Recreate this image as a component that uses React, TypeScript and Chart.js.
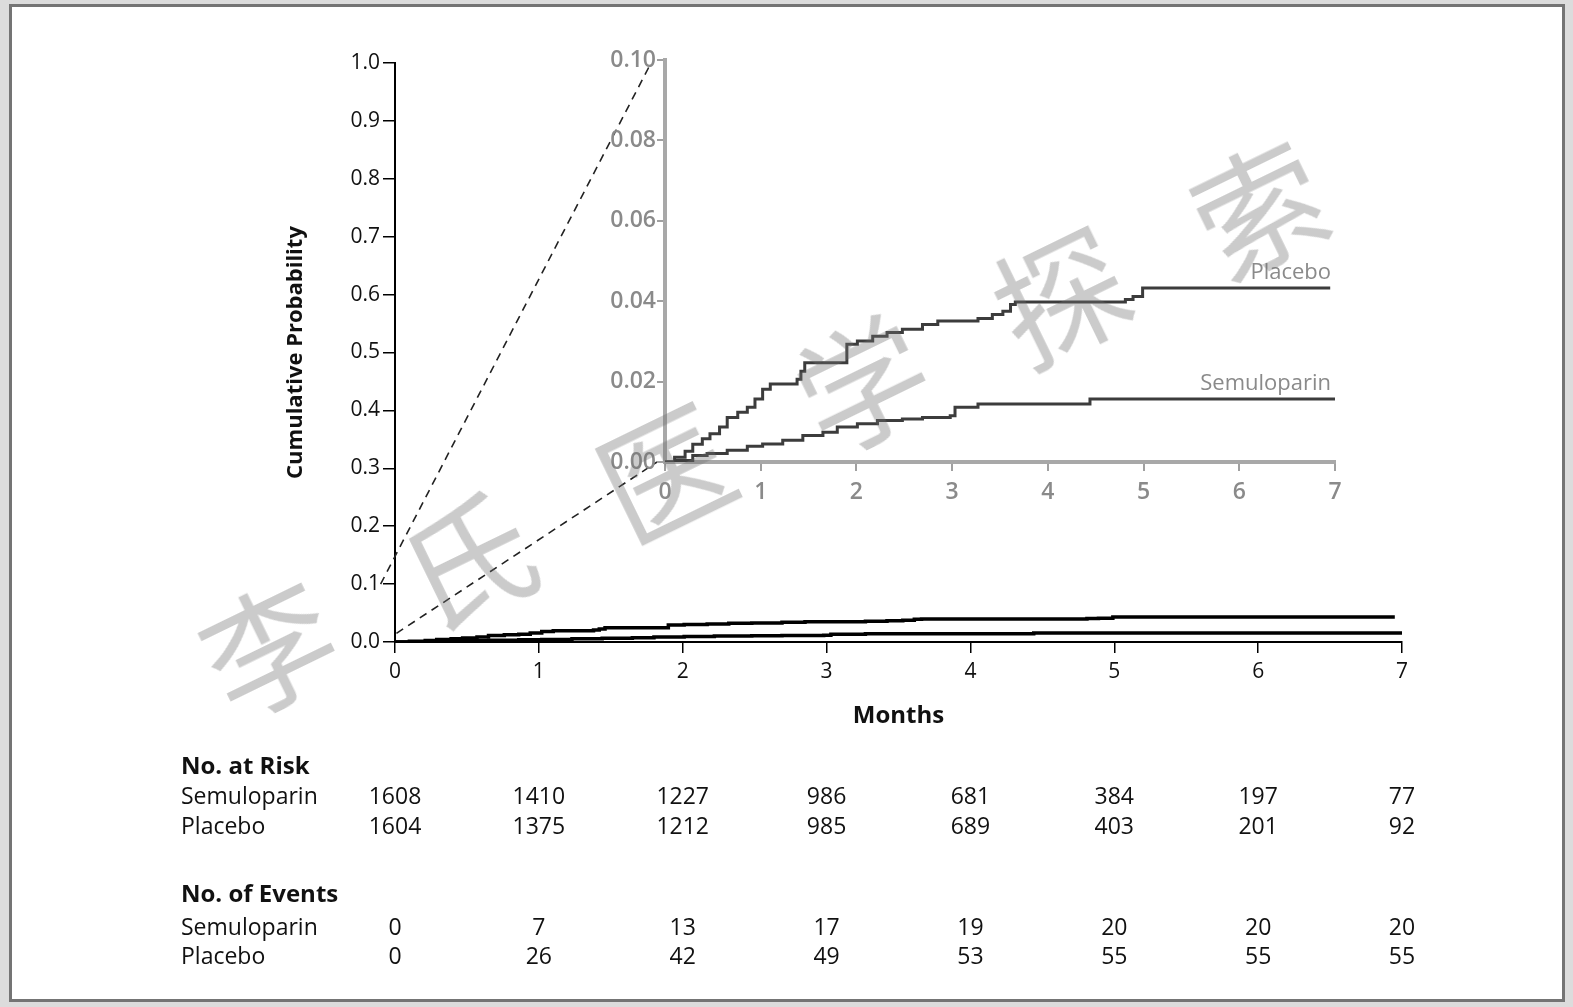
import React, { useEffect, useRef } from "react";
import { Chart, registerables } from "chart.js";

Chart.register(...registerables);

// ---- data ----
const monthTicks = [0, 1, 2, 3, 4, 5, 6, 7];
const mainProbTicks = [0, 0.1, 0.2, 0.3, 0.4, 0.5, 0.6, 0.7, 0.8, 0.9, 1.0];
const insetProbTicks = [0, 0.02, 0.04, 0.06, 0.08, 0.1];

const seriesNames = ["Placebo", "Semuloparin"];

const placeboMonths = [
  0, 0.1, 0.21, 0.29, 0.39, 0.47, 0.57, 0.65, 0.76, 0.86, 0.94, 1.02, 1.1,
  1.38, 1.42, 1.46, 1.9, 2.01, 2.17, 2.32, 2.48, 2.69, 2.85, 3.27, 3.42,
  3.53, 3.61, 3.66, 4.81, 4.89, 4.99, 6.95,
];
const placeboCum = [
  0, 0.0012, 0.0027, 0.0044, 0.0058, 0.007, 0.0087, 0.0111, 0.0124, 0.0136,
  0.0157, 0.0181, 0.0194, 0.0206, 0.0226, 0.0247, 0.0293, 0.0301, 0.0313,
  0.0322, 0.033, 0.0342, 0.0351, 0.0357, 0.0367, 0.0375, 0.0392, 0.0398,
  0.0404, 0.0412, 0.0433, 0.0433,
];

const semuloparinMonths = [
  0, 0.13, 0.29, 0.44, 0.65, 0.86, 1.02, 1.23, 1.44, 1.65, 1.8, 2.01, 2.22,
  2.48, 2.69, 2.98, 3.03, 3.27, 4.44, 7.0,
];
const semuloparinCum = [
  0, 0.0004, 0.0016, 0.0021, 0.0029, 0.0039, 0.0045, 0.0054, 0.0066, 0.0074,
  0.0087, 0.0095, 0.0103, 0.0107, 0.0111, 0.0115, 0.0136, 0.0144, 0.0157,
  0.0157,
];

const riskSemuloparin = [1608, 1410, 1227, 986, 681, 384, 197, 77];
const riskPlacebo = [1604, 1375, 1212, 985, 689, 403, 201, 92];
const eventsSemuloparin = [0, 7, 13, 17, 19, 20, 20, 20];
const eventsPlacebo = [0, 26, 42, 49, 53, 55, 55, 55];

const watermarkChars = ["李", "氏", "医", "学", "探", "索"];

// ---- layout ----
const W = 1573;
const H = 1007;
const FONT = "'Open Sans', 'Liberation Sans', sans-serif";
const INSET = { left: 560, top: 30, width: 800, height: 500 };

const toPoints = (xs: number[], ys: number[]) =>
  xs.map((x, i) => ({ x, y: ys[i] }));

const fixedTicks = (values: number[]) => (scale: any) => {
  scale.ticks = values.map((value) => ({ value }));
};

export default function App() {
  const mainRef = useRef<HTMLCanvasElement>(null);
  const insetRef = useRef<HTMLCanvasElement>(null);

  useEffect(() => {
    Chart.defaults.font.family = FONT;

    // Zoomed inset: 0 - 0.10
    const insetLabels = {
      id: "insetLabels",
      afterDatasetsDraw(chart: any) {
        const { ctx } = chart;
        const xs = chart.scales.x;
        const ys = chart.scales.y;
        ctx.save();
        ctx.fillStyle = "#8a8a8a";
        ctx.font = `22px ${FONT}`;
        ctx.textAlign = "right";
        ctx.textBaseline = "alphabetic";
        const ends = [placeboCum[placeboCum.length - 1], semuloparinCum[semuloparinCum.length - 1]];
        seriesNames.forEach((name, i) => {
          ctx.fillText(name, xs.getPixelForValue(7) - 4, ys.getPixelForValue(ends[i]) - 9);
        });
        ctx.restore();
      },
    };

    const inset = new Chart(insetRef.current!, {
      type: "line",
      data: {
        datasets: [
          {
            label: seriesNames[0],
            data: toPoints(placeboMonths, placeboCum),
            borderColor: "#3c3c3c",
            borderWidth: 3,
            stepped: true,
            pointRadius: 0,
            fill: false,
          },
          {
            label: seriesNames[1],
            data: toPoints(semuloparinMonths, semuloparinCum),
            borderColor: "#3c3c3c",
            borderWidth: 3,
            stepped: true,
            pointRadius: 0,
            fill: false,
          },
        ],
      },
      options: {
        animation: false,
        responsive: false,
        events: [],
        layout: { padding: { left: 35, right: 25, top: 30, bottom: 28 } },
        plugins: { legend: { display: false }, tooltip: { enabled: false } },
        scales: {
          x: {
            type: "linear",
            min: 0,
            max: 7,
            afterBuildTicks: fixedTicks(monthTicks),
            afterFit: (s: any) => {
              s.height = 40;
            },
            ticks: { color: "#8a8a8a", font: { size: 23, weight: 600 }, padding: 8, maxRotation: 0 },
            grid: { drawOnChartArea: false, drawTicks: true, tickLength: 9, color: "#a0a0a0", lineWidth: 2 },
            border: { display: true, color: "#a8a8a8", width: 4 },
          },
          y: {
            type: "linear",
            min: 0,
            max: 0.1,
            afterBuildTicks: fixedTicks(insetProbTicks),
            afterFit: (s: any) => {
              s.width = 70;
            },
            ticks: {
              color: "#8a8a8a",
              font: { size: 23, weight: 600 },
              padding: 1,
              callback: (v: any) => Number(v).toFixed(2),
            },
            grid: { drawOnChartArea: false, drawTicks: true, tickLength: 8, color: "#a0a0a0", lineWidth: 2 },
            border: { display: true, color: "#a8a8a8", width: 4 },
          },
        },
      },
      plugins: [insetLabels],
    });

    // Dashed connectors from the main axes to the inset
    const connectors = {
      id: "connectors",
      afterDraw(chart: any) {
        const { ctx } = chart;
        const xs = chart.scales.x;
        const ys = chart.scales.y;
        const area = inset.chartArea;
        const insetLeft = INSET.left + area.left;
        const insetTop = INSET.top + area.top;
        const insetBottom = INSET.top + area.bottom;
        ctx.save();
        ctx.strokeStyle = "#222";
        ctx.lineWidth = 1.6;
        ctx.setLineDash([8, 6]);
        ctx.beginPath();
        ctx.moveTo(xs.getPixelForValue(-0.1), ys.getPixelForValue(0.1));
        ctx.lineTo(insetLeft - 14, insetTop + 3);
        ctx.moveTo(xs.getPixelForValue(0.01), ys.getPixelForValue(0.015));
        ctx.lineTo(insetLeft - 8, insetBottom);
        ctx.stroke();
        ctx.restore();
      },
    };

    // Numbers at risk and events under the month ticks
    const riskTable = {
      id: "riskTable",
      afterDraw(chart: any) {
        const { ctx } = chart;
        const xs = chart.scales.x;
        const labelX = 181;
        ctx.save();
        ctx.fillStyle = "#111";
        ctx.textBaseline = "middle";
        const header = (t: string, y: number) => {
          ctx.font = `bold 24px ${FONT}`;
          ctx.textAlign = "left";
          ctx.fillText(t, labelX, y);
        };
        const row = (name: string, vals: number[], y: number) => {
          ctx.font = `23px ${FONT}`;
          ctx.textAlign = "left";
          ctx.fillText(name, labelX, y);
          ctx.textAlign = "center";
          vals.forEach((v, i) => ctx.fillText(String(v), xs.getPixelForValue(monthTicks[i]), y));
        };
        header("No. at Risk", 767);
        row(seriesNames[1], riskSemuloparin, 797);
        row(seriesNames[0], riskPlacebo, 827);
        header("No. of Events", 895);
        row(seriesNames[1], eventsSemuloparin, 928);
        row(seriesNames[0], eventsPlacebo, 957);
        ctx.restore();
      },
    };

    const main = new Chart(mainRef.current!, {
      type: "line",
      data: {
        datasets: [
          {
            label: seriesNames[0],
            data: toPoints(placeboMonths, placeboCum),
            borderColor: "#000",
            borderWidth: 3.5,
            stepped: true,
            pointRadius: 0,
            fill: false,
          },
          {
            label: seriesNames[1],
            data: toPoints(semuloparinMonths, semuloparinCum),
            borderColor: "#000",
            borderWidth: 3.5,
            stepped: true,
            pointRadius: 0,
            fill: false,
          },
        ],
      },
      options: {
        animation: false,
        responsive: false,
        events: [],
        layout: { padding: { left: 279, right: 171, top: 63, bottom: 272 } },
        plugins: { legend: { display: false }, tooltip: { enabled: false } },
        scales: {
          x: {
            type: "linear",
            min: 0,
            max: 7,
            afterBuildTicks: fixedTicks(monthTicks),
            afterFit: (s: any) => {
              s.height = 93;
            },
            ticks: { color: "#111", font: { size: 21 }, padding: 6, maxRotation: 0 },
            grid: { drawOnChartArea: false, drawTicks: true, tickLength: 11, color: "#000", lineWidth: 1.5 },
            border: { display: true, color: "#000", width: 2 },
            title: {
              display: true,
              text: "Months",
              color: "#111",
              font: { size: 24, weight: "bold" },
              padding: { top: 4, bottom: 4 },
            },
          },
          y: {
            type: "linear",
            min: 0,
            max: 1,
            afterBuildTicks: fixedTicks(mainProbTicks),
            afterFit: (s: any) => {
              s.width = 116;
            },
            ticks: {
              color: "#111",
              font: { size: 21 },
              padding: 3,
              callback: (v: any) => Number(v).toFixed(1),
            },
            grid: { drawOnChartArea: false, drawTicks: true, tickLength: 12, color: "#000", lineWidth: 1.5 },
            border: { display: true, color: "#000", width: 2 },
            title: {
              display: true,
              text: "Cumulative Probability",
              color: "#111",
              font: { size: 22, weight: "bold" },
              padding: { top: 4, bottom: 4 },
            },
          },
        },
      },
      plugins: [connectors, riskTable],
    });

    return () => {
      main.destroy();
      inset.destroy();
    };
  }, []);

  return (
    <div
      style={{
        position: "absolute",
        left: 0,
        top: 0,
        width: W,
        height: H,
        background: "#dcdcdc",
        overflow: "hidden",
      }}
    >
      <div
        style={{
          position: "absolute",
          left: 9,
          top: 4,
          width: 1556,
          height: 998,
          boxSizing: "border-box",
          border: "3px solid #747474",
          background: "#fff",
        }}
      />
      <canvas
        ref={mainRef}
        width={W}
        height={H}
        style={{ position: "absolute", left: 0, top: 0, width: W, height: H }}
      />
      <canvas
        ref={insetRef}
        width={INSET.width}
        height={INSET.height}
        style={{
          position: "absolute",
          left: INSET.left,
          top: INSET.top,
          width: INSET.width,
          height: INSET.height,
        }}
      />
      {watermarkChars.map((c, i) => (
        <span
          key={i}
          style={{
            position: "absolute",
            left: 266 + i * 198,
            top: 642 - i * 88,
            transform: "translate(-50%, -50%) rotate(-26deg)",
            fontFamily: "'Noto Sans CJK SC', sans-serif",
            fontSize: 130,
            lineHeight: 1,
            color: "rgba(110, 110, 110, 0.36)",
            pointerEvents: "none",
            whiteSpace: "nowrap",
          }}
        >
          {c}
        </span>
      ))}
    </div>
  );
}
